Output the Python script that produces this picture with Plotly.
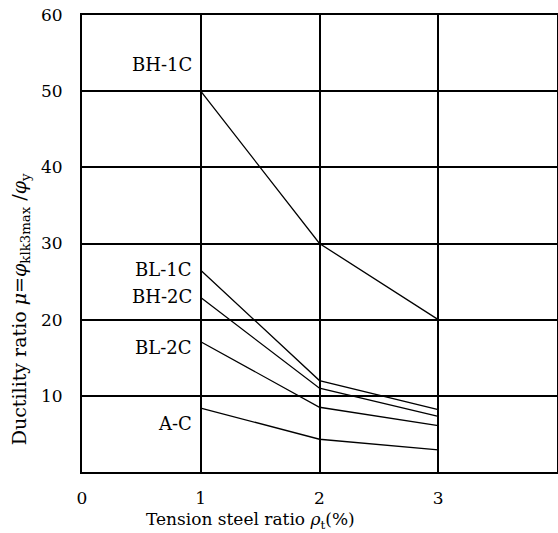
import plotly.graph_objects as go

x_ratio = [1, 2, 3]
series_names = ["BH-1C", "BL-1C", "BH-2C", "BL-2C", "A-C"]
bh1c = [50.0, 30.0, 20.0]
bl1c = [26.5, 12.0, 8.2]
bh2c = [22.9, 11.0, 7.3]
bl2c = [17.1, 8.5, 6.1]
ac = [8.4, 4.3, 2.9]
label_y = [53.5, 26.6, 23.0, 16.3, 6.4]
x_ticks = [0, 1, 2, 3]
y_ticks = [10, 20, 30, 40, 50, 60]

FONT = "DejaVu Serif"

fig = go.Figure()
for name, vals in zip(series_names, [bh1c, bl1c, bh2c, bl2c, ac]):
    fig.add_trace(go.Scatter(x=x_ratio, y=vals, mode="lines", name=name,
                             line=dict(color="black", width=1.3),
                             showlegend=False))

for name, ly in zip(series_names, label_y):
    fig.add_annotation(x=0.94, y=ly, xref="x", yref="y", text=name,
                       showarrow=False, xanchor="right", yanchor="middle",
                       font=dict(family=FONT, size=18, color="black"))

fig.add_annotation(x=-0.16, y=0.355, xref="paper", yref="paper",
                   text="Ductility ratio <i>μ</i>=<i>φ</i><sub>klk3max</sub> /<i>φ</i><sub>y</sub>",
                   textangle=-90, showarrow=False,
                   font=dict(family=FONT, size=19, color="black"))

fig.add_annotation(x=0.354, y=-0.107, xref="paper", yref="paper",
                   text="Tension steel ratio <i>ρ</i><sub>t</sub>(%)",
                   showarrow=False, xanchor="center", yanchor="middle",
                   font=dict(family=FONT, size=17, color="black"))

fig.update_layout(
    width=558, height=533,
    margin=dict(l=82, r=1, t=15, b=61),
    paper_bgcolor="white", plot_bgcolor="white",
    font=dict(family=FONT, size=17, color="black"),
    xaxis=dict(range=[0, 4], tickvals=x_ticks, ticktext=[str(v) for v in x_ticks],
               showgrid=True, gridcolor="black", gridwidth=1.9,
               showline=True, linecolor="black", linewidth=1.9, mirror=True,
               zeroline=False, ticks="", ticklen=0, ticklabelstandoff=10,
               ticklabeloverflow="allow", automargin=False),
    yaxis=dict(range=[0, 60], tickvals=y_ticks, ticktext=[str(v) for v in y_ticks],
               showgrid=True, gridcolor="black", gridwidth=1.9,
               showline=True, linecolor="black", linewidth=1.9, mirror=True,
               zeroline=False, ticks="", ticklen=0, ticklabelstandoff=14,
               ticklabeloverflow="allow", automargin=False),
)

fig.write_html("out.html", config={"displayModeBar": False},
               post_script="document.body.style.margin='0px';document.body.style.overflow='hidden';")
